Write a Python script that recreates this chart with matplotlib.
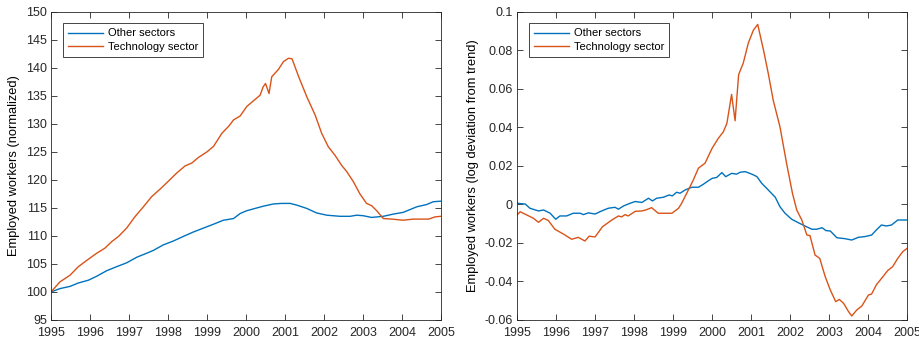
import matplotlib
matplotlib.use("Agg")
import matplotlib.pyplot as plt

plt.rcParams['font.family'] = ['Liberation Sans', 'DejaVu Sans']

# levels (normalized, 1995 = 100)
t_tech_lvl = [1995.0, 1995.23, 1995.49, 1995.7, 1995.91, 1996.17, 1996.38, 1996.56, 1996.73,
              1996.94, 1997.15, 1997.37, 1997.58, 1997.79, 1998.0, 1998.22, 1998.44, 1998.61,
              1998.78, 1999.0, 1999.17, 1999.38, 1999.56, 1999.68, 1999.85, 2000.02, 2000.19,
              2000.36, 2000.44, 2000.5, 2000.59, 2000.66, 2000.83, 2000.96, 2001.09, 2001.18,
              2001.35, 2001.56, 2001.77, 2001.94, 2002.11, 2002.28, 2002.45, 2002.58, 2002.75,
              2002.92, 2003.09, 2003.22, 2003.35, 2003.52, 2003.74, 2004.03, 2004.29, 2004.68,
              2004.85, 2005.0]
tech_lvl = [100.0, 101.8, 103.0, 104.5, 105.6, 106.9, 107.8, 109.0, 109.9,
            111.4, 113.4, 115.2, 117.0, 118.3, 119.7, 121.2, 122.5, 123.0,
            124.0, 125.0, 126.0, 128.3, 129.6, 130.7, 131.4, 133.1, 134.1,
            135.1, 136.6, 137.2, 135.4, 138.4, 139.7, 141.1, 141.7, 141.6,
            138.4, 134.8, 131.6, 128.3, 125.9, 124.4, 122.6, 121.5, 119.7,
            117.5, 115.8, 115.4, 114.5, 113.1, 113.0, 112.8, 113.0, 113.0,
            113.4, 113.5]

t_other_lvl = [1995.0, 1995.23, 1995.49, 1995.7, 1995.96, 1996.17, 1996.43, 1996.68, 1996.94,
               1997.2, 1997.45, 1997.62, 1997.88, 1998.14, 1998.39, 1998.65, 1998.91, 1999.17,
               1999.42, 1999.68, 1999.85, 2000.02, 2000.23, 2000.44, 2000.7, 2000.91, 2001.13,
               2001.3, 2001.56, 2001.81, 2002.07, 2002.41, 2002.67, 2002.84, 2003.01, 2003.22,
               2003.52, 2003.78, 2004.03, 2004.38, 2004.63, 2004.8, 2005.0]
other_lvl = [100.0, 100.6, 101.0, 101.6, 102.1, 102.8, 103.8, 104.5, 105.2,
             106.2, 106.9, 107.4, 108.4, 109.1, 109.9, 110.7, 111.4, 112.1,
             112.8, 113.1, 114.0, 114.5, 114.9, 115.3, 115.7, 115.8, 115.8,
             115.5, 114.9, 114.1, 113.7, 113.5, 113.5, 113.7, 113.6, 113.3,
             113.5, 113.9, 114.2, 115.2, 115.6, 116.1, 116.2]

# log deviation from trend
t_tech_dev = [1995.0, 1995.08, 1995.25, 1995.42, 1995.55, 1995.68, 1995.8, 1995.97, 1996.19,
              1996.4, 1996.57, 1996.74, 1996.85, 1997.0, 1997.19, 1997.43, 1997.6, 1997.68,
              1997.77, 1997.85, 1998.03, 1998.2, 1998.3, 1998.45, 1998.62, 1998.79, 1998.97,
              1999.14, 1999.22, 1999.35, 1999.52, 1999.65, 1999.82, 2000.0, 2000.16, 2000.29,
              2000.38, 2000.5, 2000.59, 2000.68, 2000.8, 2000.93, 2001.06, 2001.17, 2001.32,
              2001.44, 2001.57, 2001.74, 2001.91, 2002.06, 2002.17, 2002.3, 2002.43, 2002.51,
              2002.64, 2002.76, 2002.9, 2003.03, 2003.17, 2003.26, 2003.37, 2003.5, 2003.58,
              2003.71, 2003.84, 2004.01, 2004.09, 2004.21, 2004.38, 2004.5, 2004.63, 2004.76,
              2004.89, 2005.0]
tech_dev = [-0.0055, -0.0038, -0.0055, -0.0072, -0.0093, -0.0072, -0.0083, -0.0129, -0.0154,
            -0.0181, -0.0171, -0.0190, -0.0165, -0.0169, -0.0116, -0.0081, -0.0060, -0.0065,
            -0.0053, -0.0060, -0.0036, -0.0034, -0.0029, -0.0017, -0.0046, -0.0046, -0.0046,
            -0.0020, 0.0006, 0.0058, 0.0127, 0.0188, 0.0214, 0.0291, 0.0343, 0.0377,
            0.0421, 0.0571, 0.0434, 0.0673, 0.0734, 0.0838, 0.0905, 0.0934, 0.0799,
            0.0680, 0.0538, 0.0403, 0.0213, 0.0058, -0.0029, -0.0081, -0.0159, -0.0162,
            -0.0263, -0.0280, -0.0375, -0.0444, -0.0505, -0.0493, -0.0513, -0.0557, -0.0579,
            -0.0548, -0.0527, -0.0470, -0.0465, -0.0418, -0.0375, -0.0344, -0.0323, -0.0280,
            -0.0245, -0.0228]

t_other_dev = [1995.0, 1995.21, 1995.33, 1995.55, 1995.68, 1995.85, 1995.99, 1996.1, 1996.27,
               1996.44, 1996.62, 1996.7, 1996.83, 1997.0, 1997.17, 1997.34, 1997.51, 1997.6,
               1997.73, 1997.9, 1998.03, 1998.2, 1998.37, 1998.47, 1998.58, 1998.75, 1998.9,
               1998.98, 1999.09, 1999.18, 1999.31, 1999.48, 1999.65, 1999.78, 1999.9, 2000.0,
               2000.12, 2000.25, 2000.35, 2000.5, 2000.63, 2000.72, 2000.85, 2001.02, 2001.15,
               2001.27, 2001.44, 2001.62, 2001.74, 2001.87, 2002.04, 2002.21, 2002.38, 2002.56,
               2002.68, 2002.82, 2002.92, 2003.03, 2003.2, 2003.41, 2003.58, 2003.75, 2003.92,
               2004.09, 2004.21, 2004.34, 2004.47, 2004.6, 2004.76, 2005.0]
other_dev = [0.0006, 0.0002, -0.0020, -0.0034, -0.0029, -0.0046, -0.0077, -0.0060, -0.0060,
             -0.0046, -0.0046, -0.0053, -0.0044, -0.0050, -0.0034, -0.0020, -0.0015, -0.0025,
             -0.0008, 0.0006, 0.0015, 0.0010, 0.0032, 0.0018, 0.0032, 0.0037, 0.0049,
             0.0044, 0.0063, 0.0058, 0.0075, 0.0089, 0.0089, 0.0105, 0.0122, 0.0135,
             0.0140, 0.0165, 0.0144, 0.0161, 0.0157, 0.0167, 0.0170, 0.0157, 0.0144,
             0.0110, 0.0075, 0.0037, -0.0012, -0.0046, -0.0077, -0.0095, -0.0112, -0.0129,
             -0.0129, -0.0121, -0.0136, -0.0138, -0.0173, -0.0178, -0.0185, -0.0171, -0.0167,
             -0.0159, -0.0133, -0.0107, -0.0112, -0.0107, -0.0081, -0.0081]

years = list(range(1995, 2006))
blue = '#0072BD'
orange = '#D95319'

fig = plt.figure(figsize=(9.2, 3.41), dpi=100)
ax1 = fig.add_axes([0.0554, 0.0616, 0.424, 0.904])
ax2 = fig.add_axes([0.562, 0.0616, 0.424, 0.904])

ax1.plot(t_other_lvl, other_lvl, color=blue, lw=1.0, label='Other sectors')
ax1.plot(t_tech_lvl, tech_lvl, color=orange, lw=1.0, label='Technology sector')
ax1.set_ylim(95, 150)
ax1.set_yticks(range(95, 151, 5))
ax1.set_ylabel('Employed workers (normalized)', fontsize=9.3, labelpad=4)

ax2.plot(t_other_dev, other_dev, color=blue, lw=1.0, label='Other sectors')
ax2.plot(t_tech_dev, tech_dev, color=orange, lw=1.0, label='Technology sector')
ax2.set_ylim(-0.06, 0.1)
ax2.set_yticks([-0.06, -0.04, -0.02, 0, 0.02, 0.04, 0.06, 0.08, 0.1])
ax2.set_yticklabels(['-0.06', '-0.04', '-0.02', '0', '0.02', '0.04', '0.06', '0.08', '0.1'])
ax2.set_ylabel('Employed workers (log deviation from trend)', fontsize=9.3, labelpad=4)

for ax in (ax1, ax2):
    ax.set_xlim(1995, 2005)
    ax.set_xticks(years)
    ax.set_xticklabels([str(y) for y in years])
    ax.tick_params(direction='in', top=True, right=True, labelsize=9,
                   length=4, width=0.6, colors='#262626')
    ax.tick_params(axis='x', pad=5)
    ax.tick_params(axis='y', pad=3)
    for s in ax.spines.values():
        s.set_color('#262626')
        s.set_linewidth(0.6)
    leg = ax.legend(loc='upper left', fontsize=8, fancybox=False, framealpha=1,
                    edgecolor='#262626', handlelength=3.2, handletextpad=0.4,
                    borderaxespad=1.05, labelspacing=0.35, borderpad=0.45)
    leg.get_frame().set_linewidth(0.6)

fig.savefig('out.png', dpi=100)
